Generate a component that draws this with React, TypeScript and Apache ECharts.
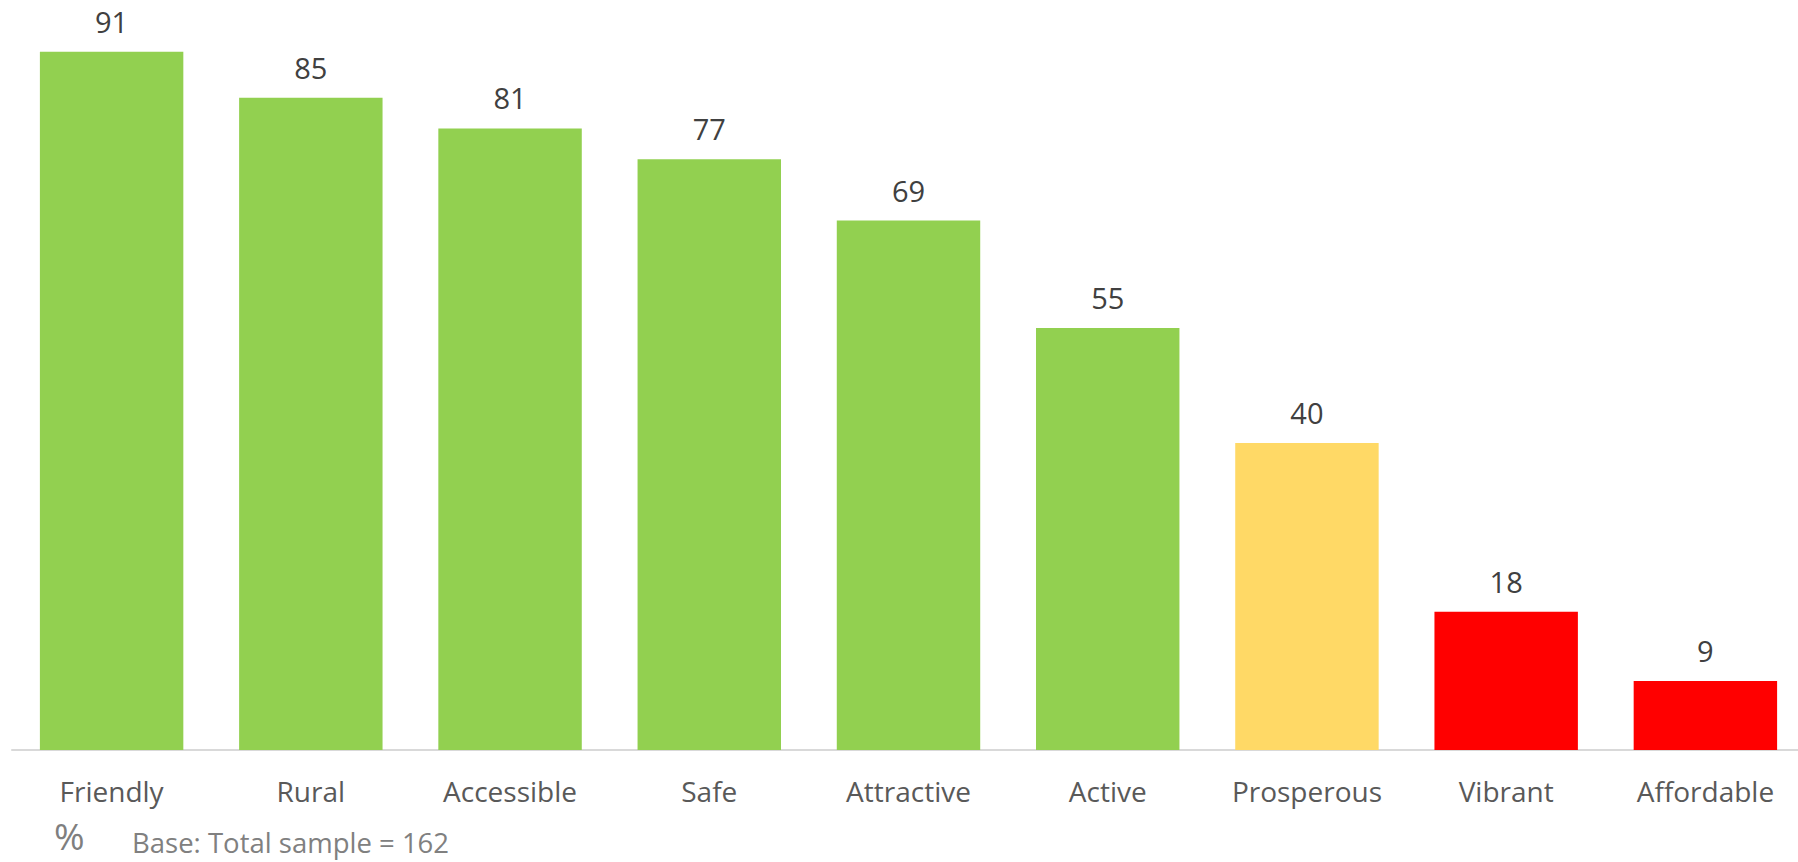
import React, { useEffect, useRef } from "react";
import * as echarts from "echarts";

const categories = ["Friendly", "Rural", "Accessible", "Safe", "Attractive", "Active", "Prosperous", "Vibrant", "Affordable"];
const values = [91, 85, 81, 77, 69, 55, 40, 18, 9];
const barColors = ["#92D050", "#92D050", "#92D050", "#92D050", "#92D050", "#92D050", "#FFD966", "#FF0000", "#FF0000"];
const unitLabel = "%";
const baseNote = "Base: Total sample = 162";

const FONT = "'Open Sans', 'Noto Sans', sans-serif";

export default function App() {
  const ref = useRef<HTMLDivElement>(null);
  useEffect(() => {
    if (!ref.current) return;
    const chart = echarts.init(ref.current, null, { renderer: "svg" });
    chart.setOption({
      animation: false,
      backgroundColor: "#ffffff",
      grid: { left: 12, right: 0, top: 21, bottom: 112, containLabel: false },
      xAxis: {
        type: "category",
        data: categories,
        axisLine: { show: true, lineStyle: { color: "#D9D9D9", width: 2 } },
        axisTick: { show: false },
        axisLabel: { color: "#595959", fontSize: 28, fontFamily: FONT, margin: 27, interval: 0 },
      },
      yAxis: {
        type: "value",
        min: 0,
        max: 95,
        show: false,
        splitLine: { show: false },
      },
      series: [
        {
          type: "bar",
          barCategoryGap: "28%",
          data: values.map((v, i) => ({ value: v, itemStyle: { color: barColors[i] } })),
          label: {
            show: true,
            position: "top",
            distance: 16,
            color: "#404040",
            fontSize: 29,
            fontFamily: FONT,
          },
        },
      ],
      graphic: [
        {
          type: "text",
          left: 54,
          top: 817,
          style: { text: unitLabel, fill: "#7F7F7F", fontSize: 37, fontFamily: FONT },
        },
        {
          type: "text",
          left: 132,
          top: 828,
          style: { text: baseNote, fill: "#808080", fontSize: 27.5, fontFamily: FONT },
        },
      ],
    });
    return () => chart.dispose();
  }, []);
  return (
    <div style={{ position: "absolute", left: 0, top: 0, width: 1798, height: 862, overflow: "hidden" }}>
      <div ref={ref} style={{ position: "absolute", left: 0, top: 0, width: 1805, height: 862 }} />
    </div>
  );
}
